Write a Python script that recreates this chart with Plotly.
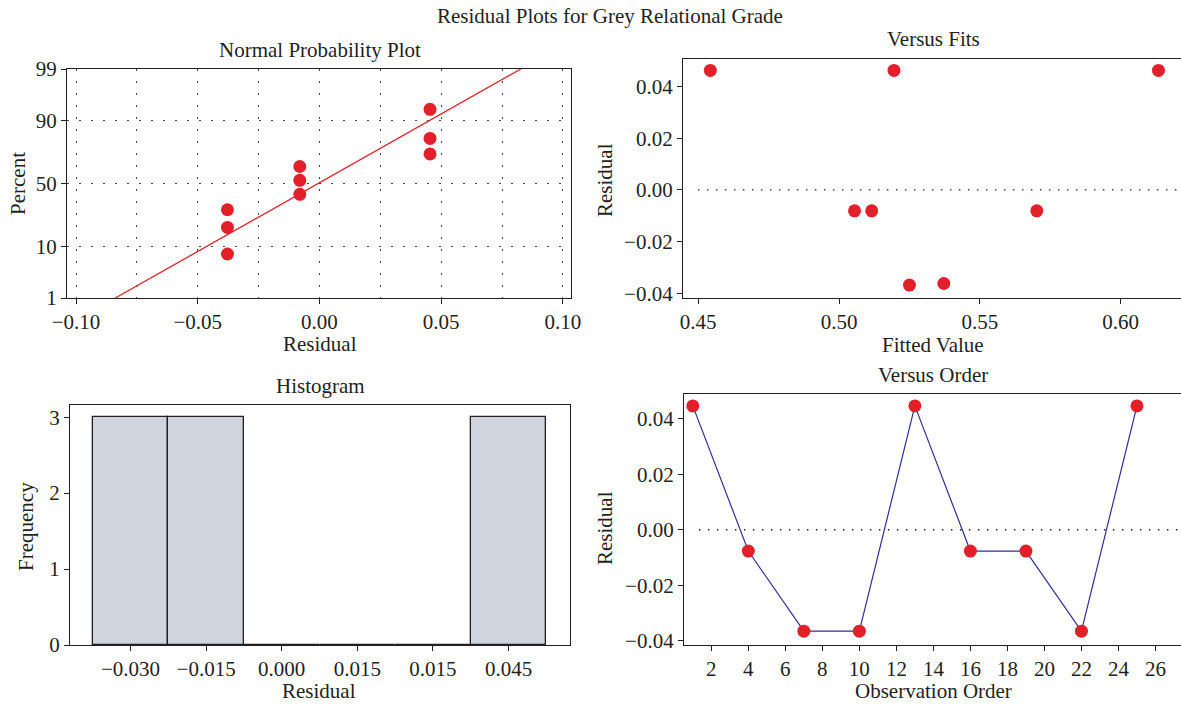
import plotly.graph_objects as go
from statistics import NormalDist

nd = NormalDist()

# ---------------- data ----------------
npp_residual = [-0.0378, -0.0378, -0.0378, -0.0081, -0.0081, -0.0081, 0.0454, 0.0454, 0.0454]
npp_percent = [7.6, 18.6, 29.7, 41.3, 52.6, 63.5, 72.6, 82.0, 93.4]
percent_ticks = [1, 10, 50, 90, 99]
fit_mean = -0.0006
fit_sd = 0.0358

fitted_values = [0.4543, 0.5195, 0.6134, 0.5055, 0.5116, 0.5702, 0.5250, 0.5372]
fitted_resid = [0.0462, 0.0462, 0.0462, -0.0081, -0.0081, -0.0081, -0.0368, -0.0362]

hist_centers = [-0.030, -0.015, 0.000, 0.015, 0.030, 0.045]
hist_counts = [3, 3, 0, 0, 0, 3]
hist_ticktext = ["\u22120.030", "\u22120.015", "0.000", "0.015", "0.015", "0.045"]
hist_width = 0.015

obs_order = [1, 4, 7, 10, 13, 16, 19, 22, 25]
order_resid = [0.0447, -0.0077, -0.0366, -0.0366, 0.0447, -0.0077, -0.0077, -0.0366, 0.0447]

# ---------------- style ----------------
W, H = 1181, 705
FONT = "Liberation Serif"
INK = "#231F20"
RED = "#E3202A"
NAVY = "#2E3192"
BARFILL = "#CFD5DE"
FS = 21


def dxp(a, b):
    return [a / W, min(b / W, 1.0)]


def dyp(top, bottom):
    return [1 - bottom / H, 1 - top / H]


base = dict(showline=True, linecolor=INK, linewidth=1.3, ticks="outside", ticklen=5,
            tickwidth=1.2, tickcolor=INK, zeroline=False, showgrid=False, automargin=False,
            tickfont=dict(family=FONT, size=FS, color=INK))

fig = go.Figure()

# Normal probability plot
zlo, zhi = nd.inv_cdf(0.01), nd.inv_cdf(0.99)
fig.add_trace(go.Scatter(x=[fit_mean + fit_sd * zlo, fit_mean + fit_sd * zhi], y=[zlo, zhi],
                         mode="lines", line=dict(color=RED, width=1.3),
                         xaxis="x", yaxis="y", showlegend=False, hoverinfo="skip"))
fig.add_trace(go.Scatter(x=npp_residual, y=[nd.inv_cdf(p / 100) for p in npp_percent],
                         mode="markers", marker=dict(color=RED, size=13),
                         xaxis="x", yaxis="y", showlegend=False))

# Versus fits
fig.add_trace(go.Scatter(x=fitted_values, y=fitted_resid, mode="markers",
                         marker=dict(color=RED, size=13), xaxis="x2", yaxis="y2",
                         showlegend=False))

# Histogram
fig.add_trace(go.Bar(x=hist_centers, y=hist_counts, width=hist_width,
                     marker=dict(color=BARFILL, line=dict(color=INK, width=1.3)),
                     xaxis="x3", yaxis="y3", showlegend=False))

# Versus order
fig.add_trace(go.Scatter(x=obs_order, y=order_resid, mode="lines+markers",
                         line=dict(color=NAVY, width=1.2),
                         marker=dict(color=RED, size=13), xaxis="x4", yaxis="y4",
                         showlegend=False))

griddot = "1.5px,10.5px"
gridcol = "#444444"

fig.update_layout(
    template="none",
    width=W, height=H, margin=dict(l=0, r=0, t=0, b=0, pad=0, autoexpand=False),
    paper_bgcolor="white", plot_bgcolor="white", bargap=0,
    font=dict(family=FONT, size=FS, color=INK),
    xaxis=dict(base, domain=dxp(67, 571), anchor="y", range=[-0.1037, 0.1033],
               tickvals=[-0.10, -0.05, 0.0, 0.05, 0.10], tickformat=".2f", mirror=True,
               showgrid=True, gridcolor=gridcol, griddash=griddot, gridwidth=1.3,
               minor=dict(tickvals=[-0.075, -0.025, 0.025, 0.075], showgrid=True,
                          gridcolor=gridcol, griddash=griddot, gridwidth=1.3, ticks="")),
    yaxis=dict(base, domain=dyp(69, 298), anchor="x", range=[zlo, zhi],
               tickvals=[nd.inv_cdf(p / 100) for p in percent_ticks],
               ticktext=[str(p) for p in percent_ticks], mirror=True,
               showgrid=True, gridcolor=gridcol, griddash=griddot, gridwidth=1.3),
    xaxis2=dict(base, domain=dxp(683, 1181), anchor="y2", range=[0.4446, 0.6214],
                tickvals=[0.45, 0.50, 0.55, 0.60], tickformat=".2f", mirror=True),
    yaxis2=dict(base, domain=dyp(59, 298), anchor="x2", range=[-0.0418, 0.0506],
                tickvals=[-0.04, -0.02, 0.0, 0.02, 0.04], tickformat=".2f"),
    xaxis3=dict(base, domain=dxp(70, 570), anchor="y3", range=[-0.0420, 0.0572],
                tickvals=hist_centers, ticktext=hist_ticktext, mirror=True),
    yaxis3=dict(base, domain=dyp(405, 645), anchor="x3", range=[0, 3.16],
                tickvals=[0, 1, 2, 3], mirror=True),
    xaxis4=dict(base, domain=dxp(684, 1181), anchor="y4", range=[0.524, 27.38],
                tick0=2, dtick=2, mirror=True),
    yaxis4=dict(base, domain=dyp(394, 645), anchor="x4", range=[-0.0416, 0.049],
                tickvals=[-0.04, -0.02, 0.0, 0.02, 0.04], tickformat=".2f"),
)

# zero reference lines
for xr, yr in (("x2 domain", "y2"), ("x4 domain", "y4")):
    fig.add_shape(type="line", xref=xr, yref=yr, x0=0.03, x1=1.0, y0=0, y1=0,
                  line=dict(color=INK, width=1.4, dash="1.5px,7.5px"))


def txt(s, x, y, angle=0, size=FS):
    fig.add_annotation(text=s, x=x / W, y=1 - y / H, xref="paper", yref="paper",
                       showarrow=False, textangle=angle, xanchor="center", yanchor="middle",
                       font=dict(family=FONT, size=size, color=INK))


txt("Residual Plots for Grey Relational Grade", 610, 16)
txt("Normal Probability Plot", 320, 50)
txt("Versus Fits", 933, 39)
txt("Histogram", 320, 386)
txt("Versus Order", 933, 375)
txt("Residual", 320, 344)
txt("Percent", 18, 184, -90)
txt("Fitted Value", 933, 345)
txt("Residual", 605, 180, -90)
txt("Frequency", 26, 527, -90)
txt("Residual", 319, 691)
txt("Residual", 605, 528, -90)
txt("Observation Order", 933, 691)

fig.write_html("out.html", config={"displayModeBar": False},
               post_script="document.body.style.margin='0px';document.body.style.overflow='hidden';")
